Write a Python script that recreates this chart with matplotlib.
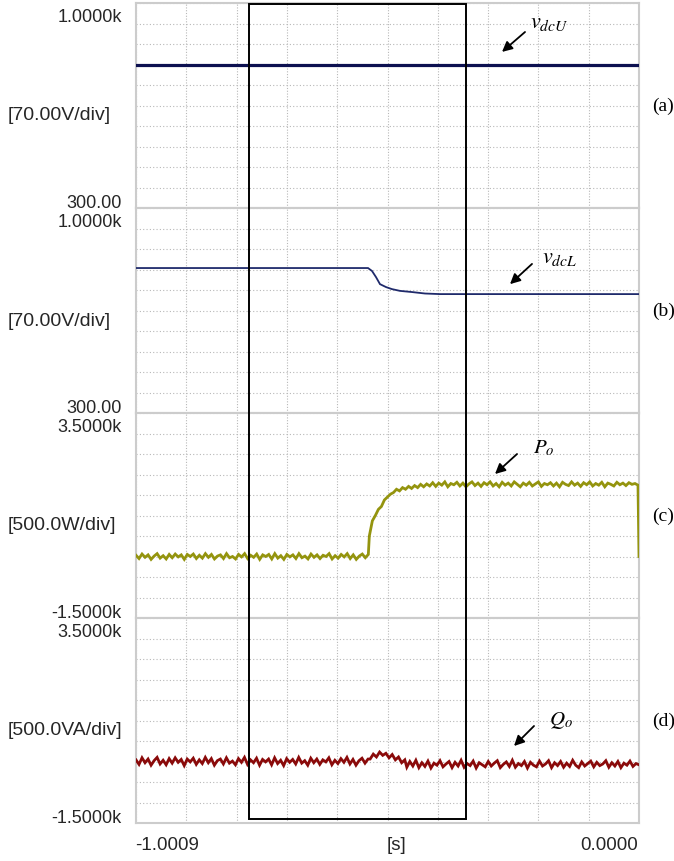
import numpy as np
import matplotlib
matplotlib.use("Agg")
import matplotlib.pyplot as plt
from matplotlib.patches import Rectangle
from matplotlib import transforms

plt.rcParams['font.family'] = ['Liberation Sans', 'DejaVu Sans']
plt.rcParams['mathtext.fontset'] = 'stix'

# ---------------- data ----------------
T0, T1 = -1.0009, 0.0
box_t = [-0.7754, -0.3448]

# panel ranges
ylims = [(300.0, 1000.0), (300.0, 1000.0), (-1500.0, 3500.0), (-1500.0, 3500.0)]
top_labels = ["1.0000k", "1.0000k", "3.5000k", "3.5000k"]
bottom_labels = ["300.00", "300.00", "-1.5000k", "-1.5000k"]
div_labels = ["[70.00V/div]", "[70.00V/div]", "[500.0W/div]", "[500.0VA/div]"]
panel_tags = ["(a)", "(b)", "(c)", "(d)"]
x_labels = ["-1.0009", "[s]", "0.0000"]

# (a) upper dc-link voltage
vdcU_t = [-1.0009, 0.0]
vdcU_v = [790.0, 790.0]

# (b) lower dc-link voltage
vdcL_t = [-1.0009, -0.5392, -0.5313, -0.5233, -0.5154, -0.5034, -0.4915,
          -0.4756, -0.4517, -0.4258, -0.3960, 0.0]
vdcL_v = [795, 795, 785, 764, 740, 730, 723, 717, 713, 708, 706, 706]

# (c) active power
P_pre = [30, -50, 60, -20, 40, -70, 10, 70, -40, 20, -60, 50, -30, 60, -10, 40,
         -70, 50, 0, 60, -50, 30, -40, 70, -20, 50, -60, 10, 40, -50, 70, -30,
         0, -60, 50, -10, 70, -50, 30, -20, 60, -70, 40, 0, 50, -60, 70, -40,
         20, -70, 50, -10, 40, -50, 70, -30, 10, -60, 60, -20, 40, -50, 30, 0,
         70, -60, 20, -40, 50, -10, 70, -50, 40, -70, 10, 60, -30, 50]
P_post = [500, 870, 1000, 1150, 1220, 1380, 1450, 1520, 1560, 1640, 1600, 1680,
          1640, 1710, 1660, 1730, 1680, 1760, 1700, 1770, 1720,
          1800, 1710, 1790, 1740, 1820, 1700, 1780, 1750, 1810, 1720, 1790, 1700,
          1770, 1820, 1730, 1790, 1710, 1800, 1750, 1820, 1720, 1780, 1700, 1810,
          1740, 1790, 1720, 1820, 1760, 1700, 1790, 1740, 1810, 1720, 1770, 1820,
          1710, 1780, 1750, 1800, 1720, 1790, 1700, 1810, 1760, 1730, 1820, 1740,
          1790, 1710, 1800, 1750, 1820, 1720, 1780, 1740, 1810, 1700, 1790, 1760,
          1720, 1810, 1750, 1790, 1730, 1800, 1760, 1780, 1740]
P_end = 0
P_seg_t = [(-1.0009, -0.5386), (-0.5366, -0.0020)]

# (d) reactive power
Q_pre = [40, -70, 90, -30, 60, -90, 20, 100, -60, 30, -80, 70, -40, 90, -20, 50,
         -100, 60, -10, 80, -70, 40, -50, 100, -30, 70, -90, 20, 60, -60, 90, -40,
         10, -80, 70, -20, 100, -70, 40, -30, 80, -90, 50, -10, 60, -80, 90, -50,
         30, -100, 70, -20, 50, -60, 100, -40, 20, -90, 80, -30, 60, -70, 40, -10,
         90, -80, 30, -50, 70, -20, 100, -60, 50, -90, 20, 80, -40, 60]
Q_mid = [60, 180, 110, 230, 150, 200, 90, 170, 40, 110, -30, 40]
Q_post = [-140, 0, -110, 30, -150, -30, -120, 10, -160, -40, -90, 20, -130, -60,
          0, -150, -20, -110, 30, -140, -50, -100, 10, -160, -30, -80, -130, 0,
          -110, -40, 20, -150, -70, -10, -120, 30, -140, -50, -100, 0, -160, -20,
          -90, -130, 10, -110, -60, 20, -150, -30, -100, 0, -140, -40, -120, 30,
          -90, -150, -10, -110, -50, 10, -130, -20, -100, -60, 20, -140, -30, -110,
          0, -150, -40, -90, 10, -120, -50, -80]
Q_seg_t = [(-1.0009, -0.5392), (-0.5350, -0.4660), (-0.4620, 0.0)]

# annotations: (head t, head y), (tail t, tail y), (text t, text y), label
annots = [
    ((-0.2726, 833), (-0.2268, 901), (-0.2169, 918), r'$v_{dcU}$'),
    ((-0.2567, 740), (-0.2129, 809), (-0.1929, 816), r'$v_{dcL}$'),
    ((-0.2865, 2012), (-0.2427, 2500), (-0.2109, 2549), r'$P_o$'),
    ((-0.2487, 378), (-0.2089, 866), (-0.1790, 915), r'$Q_o$'),
]

colors = ['#0c1050', '#1f2a6b', '#94940e', '#8a0a0a']
lws = [2.3, 1.3, 2.0, 2.0]

# ---------------- build series ----------------
P_t = np.concatenate([np.linspace(*P_seg_t[0], len(P_pre)),
                      np.linspace(*P_seg_t[1], len(P_post)), [T1]])
P_v = np.array(P_pre + P_post + [P_end], dtype=float)
Q_t = np.concatenate([np.linspace(*Q_seg_t[0], len(Q_pre)),
                      np.linspace(*Q_seg_t[1], len(Q_mid)),
                      np.linspace(*Q_seg_t[2], len(Q_post))])
Q_v = np.array(Q_pre + Q_mid + Q_post, dtype=float)

series = [(vdcU_t, vdcU_v), (vdcL_t, vdcL_v), (P_t, P_v), (Q_t, Q_v)]

# ---------------- figure ----------------
W, H = 674, 862
fig = plt.figure(figsize=(W / 100, H / 100), dpi=100)
L, R = 136, 639
TOP = 4
PH = 205
txt_col = '#262626'
axes = []
for i in range(4):
    bottom = 1 - (TOP + PH * (i + 1)) / H
    ax = fig.add_axes([L / W, bottom, (R - L) / W, PH / H])
    axes.append(ax)
    lo, hi = ylims[i]
    ax.set_xlim(T0, T1)
    ax.set_ylim(lo, hi)
    ax.set_xticks(np.linspace(T0, T1, 11))
    ax.set_yticks(np.linspace(lo, hi, 11))
    ax.tick_params(length=0, labelbottom=False, labelleft=False)
    ax.grid(True, axis='y', color='#b8b8b8', linestyle=(0, (1, 2)), linewidth=0.8)
    ax.grid(True, axis='x', color='#b8b8b8', linestyle=(0, (1, 1.5)), linewidth=0.8)
    for s in ax.spines.values():
        s.set_color('#cccccc')
        s.set_linewidth(1.5)
    t, v = series[i]
    ax.plot(t, v, color=colors[i], lw=lws[i], solid_joinstyle='miter', zorder=3)

    # annotation arrow + label
    head, tail, tpos, lab = annots[i]
    ax.annotate('', xy=head, xytext=tail,
                arrowprops=dict(arrowstyle='-|>,head_length=0.6,head_width=0.3',
                                color='black', lw=1.3, shrinkA=0, shrinkB=0),
                zorder=5)
    ax.text(tpos[0], tpos[1], lab, fontsize=16 if i < 2 else 15,
            ha='left', va='baseline', color='black', zorder=5)

    # left labels
    ptop = TOP + PH * i
    pbot = ptop + PH
    fig.text(122 / W, 1 - (ptop + 18) / H, top_labels[i], ha='right',
             va='baseline', fontsize=13, color=txt_col)
    fig.text(122 / W, 1 - (pbot - 1) / H, bottom_labels[i], ha='right',
             va='baseline', fontsize=13, color=txt_col)
    fig.text(8 / W, 1 - (ptop + 112) / H, div_labels[i], ha='left',
             va='center', fontsize=14, color=txt_col)
    # panel tag
    fig.text(652 / W, 1 - (ptop + PH / 2) / H, panel_tags[i], ha='left',
             va='center', fontsize=14, color='black', family='Liberation Serif')

# x axis labels
fig.text(135 / W, 1 - 846 / H, x_labels[0], ha='left', va='center', fontsize=13.5, color=txt_col)
fig.text(397 / W, 1 - 846 / H, x_labels[1], ha='center', va='center', fontsize=13.5, color=txt_col)
fig.text(638 / W, 1 - 846 / H, x_labels[2], ha='right', va='center', fontsize=13.5, color=txt_col)

# highlight rectangle spanning all panels
blend = transforms.blended_transform_factory(axes[-1].transData, fig.transFigure)
y_top = 1 - 5 / H
y_bot = 1 - 820 / H
rect = Rectangle((box_t[0], y_bot), box_t[1] - box_t[0], y_top - y_bot,
                 transform=blend, fill=False, edgecolor='black', lw=1.4, zorder=10)
fig.add_artist(rect)

fig.savefig('out.png', dpi=100)
